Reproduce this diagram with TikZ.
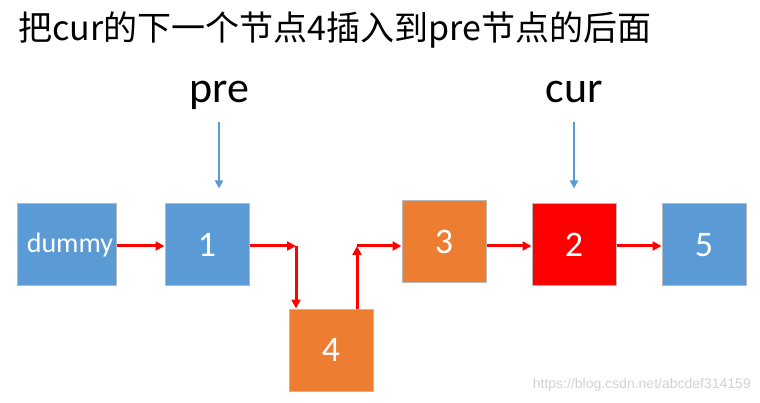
\documentclass[tikz,border=0pt]{standalone}
\usepackage{fontspec}
\setmainfont{Carlito}
\newfontfamily\cjk{Noto Sans CJK SC}
\newfontfamily\urlfont{Liberation Sans}
\usetikzlibrary{arrows.meta}
\definecolor{nodeblue}{HTML}{5B9BD5}
\definecolor{nodeorange}{HTML}{ED7D31}
\definecolor{nodered}{HTML}{FF0000}
\begin{document}
\begin{tikzpicture}[x=1pt, y=-1pt,
  block/.style={draw=gray!55, line width=1pt, minimum width=84pt, minimum height=82pt, text=white, font=\fontsize{36}{36}\selectfont},
  link/.style={-{Triangle[length=9pt,width=9pt]}, line width=3pt, color=nodered},
  ptr/.style={-{Triangle[length=8pt,width=8pt]}, line width=2pt, color=nodeblue}]

  \useasboundingbox (0,0) rectangle (760,403);

  % Title
  \node[anchor=base west, inner sep=0, font=\cjk\fontsize{34}{34}\selectfont] (T) at (18,41) {把cur的下一个节点4插入到pre节点的后面};

  % Top row
  \node[block, fill=nodeblue] (n0) at (67,245) {\fontsize{28}{28}\selectfont\hspace{6pt}dummy};
  \node[block, fill=nodeblue, right of=n0, node distance=140pt] (n1) {1};
  \node[block, fill=nodeorange] (n3) at (444,242) {3};
  \node[block, fill=nodered, right of=n3, node distance=130pt, yshift=-3pt] (n2) {2};
  \node[block, fill=nodeblue, right of=n2, node distance=130pt] (n5) {5};

  % Bottom row
  \node[block, fill=nodeorange] (n4) at (331,350) {4};

  % Labels
  \node[anchor=base, inner sep=0, font=\fontsize{44}{44}\selectfont] (pre) at (219,103) {pre};
  \node[anchor=base, inner sep=0, font=\fontsize{44}{44}\selectfont] (cur) at (574,103) {cur};
  \node[anchor=south east, inner sep=0, text=gray!35, font=\urlfont\fontsize{14}{14}\selectfont] (url) at (751,392) {https://blog.csdn.net/abcdef314159};

  % corners
  \coordinate (k1) at (296,246);
  \coordinate (k2) at (357,246);

  % vertical arrows
  \draw[ptr] (pre.south |- 0,122) -- ([yshift=15pt]pre.south |- n1.north);
  \draw[ptr] (cur.south |- 0,122) -- ([yshift=15pt]cur.south |- n2.north);

  % Horizontal arrows
  \draw[link] (n0.east |- k1) -- (n1.west |- k1);
  \draw[link] (n1.east |- k1) -- (k1);
  \draw[link] (k1) -- (k1 |- n4.north);
  \draw[link] (k2 |- n4.north) -- (k2);
  \draw[link] (k2) -- (n3.west |- k2);
  \draw[link] (n3.east |- k2) -- (n2.west |- k2);
  \draw[link] (n2.east |- k2) -- (n5.west |- k2);

\end{tikzpicture}
\end{document}
